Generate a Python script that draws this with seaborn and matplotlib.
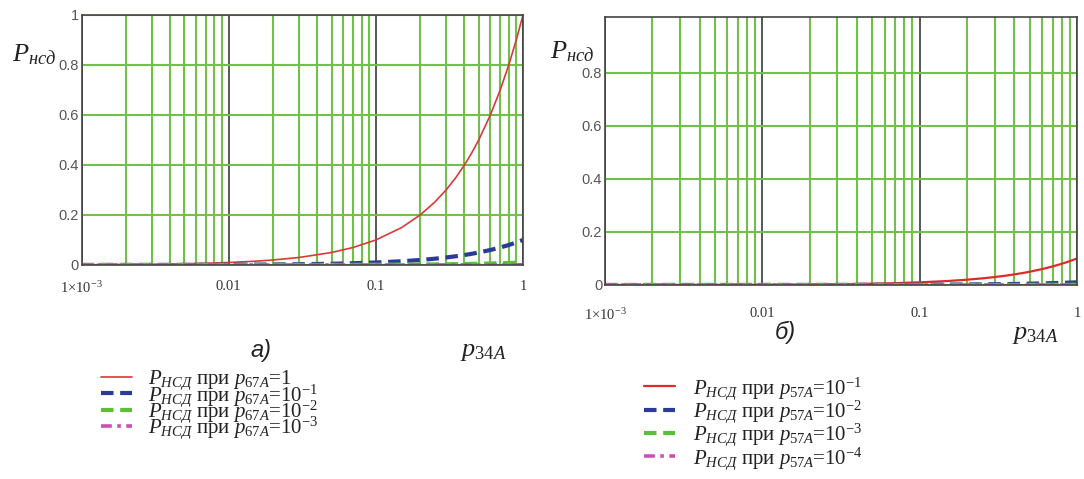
import matplotlib
matplotlib.use("Agg")
import matplotlib.pyplot as plt
import seaborn as sns
from matplotlib.ticker import LogLocator, FixedLocator, NullFormatter

# ---------------- data ----------------
p34 = [0.001, 0.002, 0.003, 0.005, 0.007, 0.01, 0.015, 0.02, 0.03, 0.05, 0.07,
       0.1, 0.15, 0.2, 0.25, 0.3, 0.35, 0.4, 0.45, 0.5, 0.6, 0.7, 0.8, 0.9, 1.0]

# panel a)
a_p67_1 = [0.001, 0.002, 0.003, 0.005, 0.007, 0.01, 0.015, 0.02, 0.03, 0.05, 0.07,
           0.1, 0.15, 0.2, 0.25, 0.3, 0.35, 0.4, 0.45, 0.5, 0.6, 0.7, 0.8, 0.9, 1.0]
a_p67_e1 = [0.0001, 0.0002, 0.0003, 0.0005, 0.0007, 0.001, 0.0015, 0.002, 0.003, 0.005, 0.007,
            0.01, 0.015, 0.02, 0.025, 0.03, 0.035, 0.04, 0.045, 0.05, 0.06, 0.07, 0.08, 0.09, 0.1]
a_p67_e2 = [0.00001, 0.00002, 0.00003, 0.00005, 0.00007, 0.0001, 0.00015, 0.0002, 0.0003, 0.0005, 0.0007,
            0.001, 0.0015, 0.002, 0.0025, 0.003, 0.0035, 0.004, 0.0045, 0.005, 0.006, 0.007, 0.008, 0.009, 0.01]
a_p67_e3 = [0.000001, 0.000002, 0.000003, 0.000005, 0.000007, 0.00001, 0.000015, 0.00002, 0.00003, 0.00005, 0.00007,
            0.0001, 0.00015, 0.0002, 0.00025, 0.0003, 0.00035, 0.0004, 0.00045, 0.0005, 0.0006, 0.0007, 0.0008, 0.0009, 0.001]

# panel б)
b_p57_e1 = [0.0001, 0.0002, 0.0003, 0.0005, 0.0007, 0.001, 0.0015, 0.002, 0.003, 0.005, 0.007,
            0.01, 0.015, 0.02, 0.025, 0.03, 0.035, 0.04, 0.045, 0.05, 0.06, 0.07, 0.08, 0.09, 0.1]
b_p57_e2 = [0.00001, 0.00002, 0.00003, 0.00005, 0.00007, 0.0001, 0.00015, 0.0002, 0.0003, 0.0005, 0.0007,
            0.001, 0.0015, 0.002, 0.0025, 0.003, 0.0035, 0.004, 0.0045, 0.005, 0.006, 0.007, 0.008, 0.009, 0.01]
b_p57_e3 = [0.000001, 0.000002, 0.000003, 0.000005, 0.000007, 0.00001, 0.000015, 0.00002, 0.00003, 0.00005, 0.00007,
            0.0001, 0.00015, 0.0002, 0.00025, 0.0003, 0.00035, 0.0004, 0.00045, 0.0005, 0.0006, 0.0007, 0.0008, 0.0009, 0.001]
b_p57_e4 = [0.0000001, 0.0000002, 0.0000003, 0.0000005, 0.0000007, 0.000001, 0.0000015, 0.000002, 0.000003, 0.000005, 0.000007,
            0.00001, 0.000015, 0.00002, 0.000025, 0.00003, 0.000035, 0.00004, 0.000045, 0.00005, 0.00006, 0.00007, 0.00008, 0.00009, 0.0001]

xtick_vals = [0.001, 0.01, 0.1, 1]
xtick_labels = [r'1$\times$10$^{-3}$', '0.01', '0.1', '1']
a_ytick_vals = [0, 0.2, 0.4, 0.6, 0.8, 1.0]
a_ytick_labels = ['0', '0.2', '0.4', '0.6', '0.8', '1']
b_ytick_vals = [0, 0.2, 0.4, 0.6, 0.8]
b_ytick_labels = ['0', '0.2', '0.4', '0.6', '0.8']

a_legend = [r'$P_{НСД}$ при $p_{\mathit{67A}}$=1',
            r'$P_{НСД}$ при $p_{\mathit{67A}}$=10$^{-1}$',
            r'$P_{НСД}$ при $p_{\mathit{67A}}$=10$^{-2}$',
            r'$P_{НСД}$ при $p_{\mathit{67A}}$=10$^{-3}$']
b_legend = [r'$P_{НСД}$ при $p_{\mathit{57A}}$=10$^{-1}$',
            r'$P_{НСД}$ при $p_{\mathit{57A}}$=10$^{-2}$',
            r'$P_{НСД}$ при $p_{\mathit{57A}}$=10$^{-3}$',
            r'$P_{НСД}$ при $p_{\mathit{57A}}$=10$^{-4}$']

# ---------------- style ----------------
sns.set_style("white")
plt.rcParams['font.family'] = ['Liberation Serif', 'DejaVu Serif']
plt.rcParams['mathtext.fontset'] = 'custom'
plt.rcParams['mathtext.it'] = 'Liberation Serif:italic'
plt.rcParams['mathtext.rm'] = 'Liberation Serif'
plt.rcParams['mathtext.bf'] = 'Liberation Serif:bold'

GRID_GREEN = '#72c04a'
DECADE = '#3a3a3a'
RED = '#d83a3a'
BLUE = '#2a3a98'
GREEN = '#5cbf3c'
MAGENTA = '#cc4fb8'

styles_a = [
    dict(color=RED, lw=1.2, linestyle='-'),
    dict(color=BLUE, lw=3.0, linestyle=(0, (3, 1.6))),
    dict(color=GREEN, lw=3.0, linestyle=(0, (3, 1.6))),
    dict(color=MAGENTA, lw=2.6, linestyle=(0, (3, 1.5, 1, 1.5))),
]
styles_b = [
    dict(color='#e02a2a', lw=1.6, linestyle='-'),
    dict(color=BLUE, lw=3.0, linestyle=(0, (3, 1.6))),
    dict(color=GREEN, lw=3.0, linestyle=(0, (3, 1.6))),
    dict(color=MAGENTA, lw=2.6, linestyle=(0, (3, 1.5, 1, 1.5))),
]

W, H = 1084, 479
fig = plt.figure(figsize=(10.84, 4.79), dpi=100)
ax_a = fig.add_axes([81.5/W, 1-265/H, (523-81.5)/W, (265-15)/H])
ax_b = fig.add_axes([605/W, 1-285/H, (1077-605)/W, (285-17)/H])


def setup(ax, yvals, ylabels, ytop, xpad):
    ax.set_xscale('log')
    ax.set_xlim(0.001, 1)
    ax.set_ylim(0, ytop)
    ax.xaxis.set_major_locator(FixedLocator(xtick_vals))
    ax.set_xticklabels(xtick_labels, fontsize=10.5, family='Liberation Serif', color='#333333')
    ax.xaxis.set_minor_locator(LogLocator(base=10, subs=[2, 3, 4, 5, 6, 7, 8, 9], numticks=20))
    ax.xaxis.set_minor_formatter(NullFormatter())
    ax.yaxis.set_major_locator(FixedLocator(yvals))
    ax.set_yticklabels(ylabels, fontsize=10.5, family='Liberation Sans', color='#555555')
    ax.tick_params(which='both', length=0)
    ax.tick_params(axis='x', pad=xpad)
    ax.tick_params(axis='y', pad=2)
    ax.grid(which='minor', axis='x', color=GRID_GREEN, lw=1.5)
    ax.grid(which='major', axis='x', color=DECADE, lw=1.2)
    ax.grid(which='major', axis='y', color=GRID_GREEN, lw=1.5)
    ax.set_axisbelow(True)
    for s in ax.spines.values():
        s.set_visible(True)
        s.set_color('#444444')
        s.set_linewidth(1.2)


setup(ax_a, a_ytick_vals, a_ytick_labels, 1.0, 11)
setup(ax_b, b_ytick_vals, b_ytick_labels, 1.011, 16)

for ys, st, lab in zip([a_p67_1, a_p67_e1, a_p67_e2, a_p67_e3], styles_a, a_legend):
    sns.lineplot(x=p34, y=ys, ax=ax_a, label=lab, **st)
for ys, st, lab in zip([b_p57_e1, b_p57_e2, b_p57_e3, b_p57_e4], styles_b, b_legend):
    sns.lineplot(x=p34, y=ys, ax=ax_b, label=lab, **st)

for ax in (ax_a, ax_b):
    ax.set_xlabel('')
    ax.set_ylabel('')
    if ax.get_legend():
        ax.get_legend().remove()

# legends
ha, la = ax_a.get_legend_handles_labels()
fig.legend(ha, la, loc='upper left', bbox_to_anchor=(101/W, 1-369/H), frameon=False,
           fontsize=15, handlelength=1.5, handletextpad=0.75, labelspacing=-0.50,
           borderaxespad=0, borderpad=0, labelcolor='#222222')
hb, lb = ax_b.get_legend_handles_labels()
fig.legend(hb, lb, loc='upper left', bbox_to_anchor=(644/W, 1-375/H), frameon=False,
           fontsize=15, handlelength=1.5, handletextpad=0.85, labelspacing=-0.16,
           borderaxespad=0, borderpad=0, labelcolor='#222222')

# y-axis labels
fig.text(12/W, 1-55/H, r'$P_{нсд}$', fontsize=19, va='center', ha='left', color='#222222')
fig.text(550/W, 1-52/H, r'$P_{нсд}$', fontsize=19, va='center', ha='left', color='#222222')

# panel captions and x labels
fig.text(261/W, 1-350/H, 'а)', fontsize=17, style='italic', family='Liberation Sans',
         ha='center', va='center', color='#222222')
fig.text(483/W, 1-352/H, r'$p_{\mathit{34A}}$', fontsize=19, ha='center', va='center', color='#222222')
fig.text(785/W, 1-332/H, 'б)', fontsize=17, style='italic', family='Liberation Sans',
         ha='center', va='center', color='#222222')
fig.text(1035/W, 1-335/H, r'$p_{\mathit{34A}}$', fontsize=19, ha='center', va='center', color='#222222')

fig.savefig('out.png', dpi=100)
